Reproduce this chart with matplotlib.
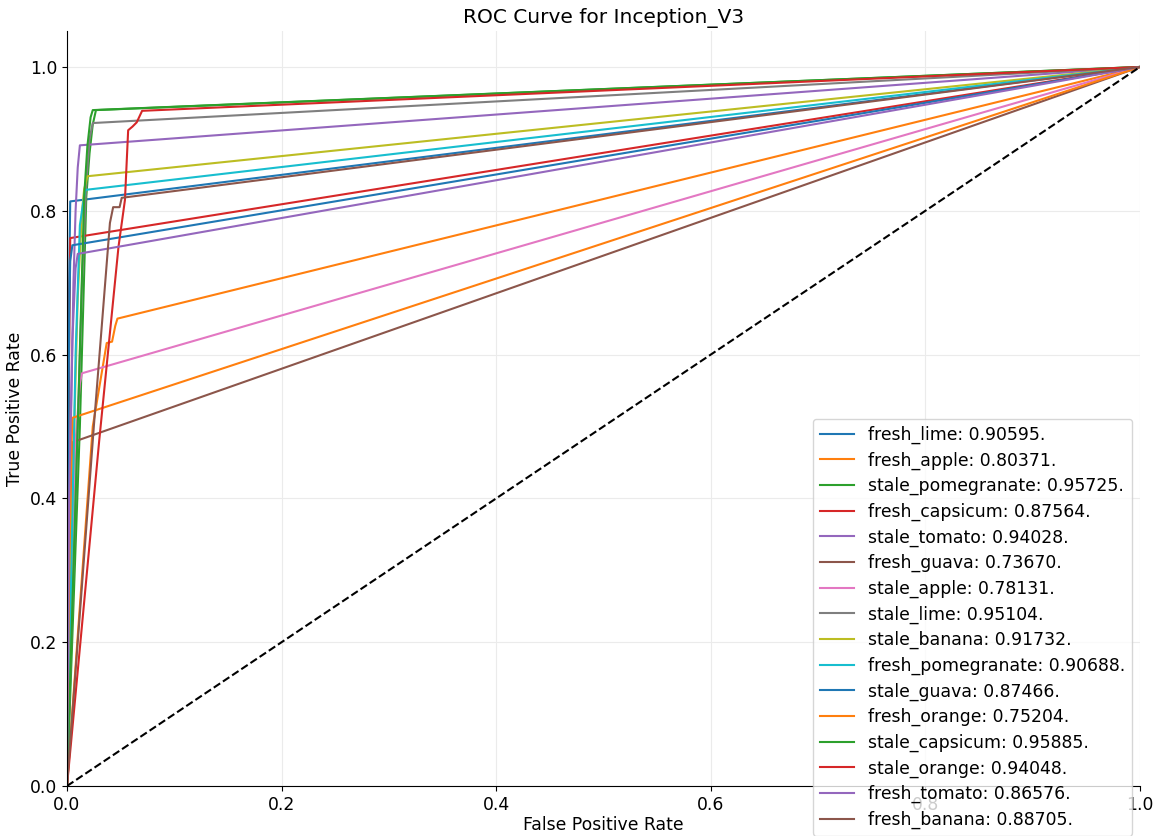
import matplotlib
matplotlib.use("Agg")
import matplotlib.pyplot as plt

# class names and AUC values as printed in the legend
classes = [
    "fresh_lime", "fresh_apple", "stale_pomegranate", "fresh_capsicum",
    "stale_tomato", "fresh_guava", "stale_apple", "stale_lime",
    "stale_banana", "fresh_pomegranate", "stale_guava", "fresh_orange",
    "stale_capsicum", "stale_orange", "fresh_tomato", "fresh_banana",
]
aucs = [
    0.90595, 0.80371, 0.95725, 0.87564, 0.94028, 0.73670, 0.78131, 0.95104,
    0.91732, 0.90688, 0.87466, 0.75204, 0.95885, 0.94048, 0.86576, 0.88705,
]

# ROC points (fpr, tpr)
fpr_fresh_lime = [0.0, 0.001, 0.002, 0.003, 1.0]
tpr_fresh_lime = [0.0, 0.55, 0.70, 0.813, 1.0]
fpr_fresh_apple = [0.0, 0.024, 0.037, 0.042, 0.045, 0.047, 1.0]
tpr_fresh_apple = [0.0, 0.50, 0.616, 0.618, 0.64, 0.65, 1.0]
fpr_stale_pomegranate = [0.0, 0.012, 0.018, 0.021, 0.024, 0.027, 1.0]
tpr_stale_pomegranate = [0.0, 0.50, 0.82, 0.88, 0.92, 0.94, 1.0]
fpr_fresh_capsicum = [0.0, 0.001, 0.002, 0.003, 1.0]
tpr_fresh_capsicum = [0.0, 0.40, 0.60, 0.762, 1.0]
fpr_stale_tomato = [0.0, 0.003, 0.006, 0.008, 0.010, 0.012, 1.0]
tpr_stale_tomato = [0.0, 0.45, 0.70, 0.80, 0.86, 0.891, 1.0]
fpr_fresh_guava = [0.0, 0.002, 0.004, 0.005, 1.0]
tpr_fresh_guava = [0.0, 0.30, 0.44, 0.478, 1.0]
fpr_stale_apple = [0.0, 0.004, 0.008, 0.012, 0.014, 1.0]
tpr_stale_apple = [0.0, 0.30, 0.48, 0.56, 0.574, 1.0]
fpr_stale_lime = [0.0, 0.008, 0.014, 0.018, 0.021, 0.024, 1.0]
tpr_stale_lime = [0.0, 0.40, 0.70, 0.84, 0.90, 0.922, 1.0]
fpr_stale_banana = [0.0, 0.005, 0.010, 0.014, 0.016, 0.019, 1.0]
tpr_stale_banana = [0.0, 0.40, 0.68, 0.80, 0.83, 0.848, 1.0]
fpr_fresh_pomegranate = [0.0, 0.004, 0.008, 0.012, 0.015, 0.017, 1.0]
tpr_fresh_pomegranate = [0.0, 0.30, 0.60, 0.78, 0.81, 0.829, 1.0]
fpr_stale_guava = [0.0, 0.001, 0.002, 0.003, 0.005, 1.0]
tpr_stale_guava = [0.0, 0.40, 0.65, 0.73, 0.752, 1.0]
fpr_fresh_orange = [0.0, 0.002, 0.004, 0.005, 1.0]
tpr_fresh_orange = [0.0, 0.30, 0.46, 0.512, 1.0]
fpr_stale_capsicum = [0.0, 0.010, 0.016, 0.019, 0.022, 0.024, 1.0]
tpr_stale_capsicum = [0.0, 0.50, 0.82, 0.89, 0.93, 0.94, 1.0]
fpr_stale_orange = [0.0, 0.030, 0.048, 0.054, 0.057, 0.061, 0.065, 0.070, 1.0]
tpr_stale_orange = [0.0, 0.48, 0.75, 0.815, 0.912, 0.917, 0.923, 0.939, 1.0]
fpr_fresh_tomato = [0.0, 0.002, 0.005, 0.008, 0.010, 1.0]
tpr_fresh_tomato = [0.0, 0.40, 0.62, 0.72, 0.74, 1.0]
fpr_fresh_banana = [0.0, 0.025, 0.040, 0.043, 0.049, 0.051, 1.0]
tpr_fresh_banana = [0.0, 0.50, 0.783, 0.805, 0.805, 0.818, 1.0]

fprs = [
    fpr_fresh_lime, fpr_fresh_apple, fpr_stale_pomegranate, fpr_fresh_capsicum,
    fpr_stale_tomato, fpr_fresh_guava, fpr_stale_apple, fpr_stale_lime,
    fpr_stale_banana, fpr_fresh_pomegranate, fpr_stale_guava, fpr_fresh_orange,
    fpr_stale_capsicum, fpr_stale_orange, fpr_fresh_tomato, fpr_fresh_banana,
]
tprs = [
    tpr_fresh_lime, tpr_fresh_apple, tpr_stale_pomegranate, tpr_fresh_capsicum,
    tpr_stale_tomato, tpr_fresh_guava, tpr_stale_apple, tpr_stale_lime,
    tpr_stale_banana, tpr_fresh_pomegranate, tpr_stale_guava, tpr_fresh_orange,
    tpr_stale_capsicum, tpr_stale_orange, tpr_fresh_tomato, tpr_fresh_banana,
]

fs = 12.4
fig = plt.figure(figsize=(11.61, 8.36), dpi=100)
ax = fig.add_axes([67 / 1161, 50 / 836, 1073 / 1161, 755 / 836])

for name, auc, fpr, tpr in zip(classes, aucs, fprs, tprs):
    ax.plot(fpr, tpr, lw=1.5, label=f"{name}: {auc:.5f}.")

ax.plot([0, 1], [0, 1], "k--", lw=1.5)

ax.set_xlim(0, 1.0)
ax.set_ylim(0, 1.05)
ax.grid(True, color="#ebebeb", lw=0.8)
ax.set_axisbelow(True)
for s in ["top", "right"]:
    ax.spines[s].set_visible(False)
ax.tick_params(labelsize=fs)
ax.set_title("ROC Curve for Inception_V3", fontsize=14.5)
ax.set_xlabel("False Positive Rate", fontsize=fs, labelpad=2)
ax.set_ylabel("True Positive Rate", fontsize=fs)

ax.legend(loc="lower right", bbox_to_anchor=(0.9925, -0.066),
          borderaxespad=0, fontsize=fs, labelspacing=0.43, framealpha=0.8)

fig.savefig("out.png", dpi=100)
